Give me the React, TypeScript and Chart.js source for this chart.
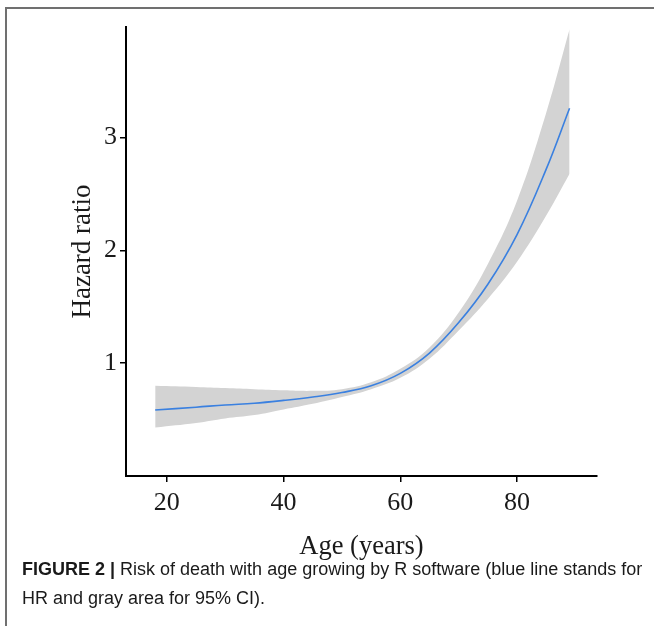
import React, { useEffect, useRef } from "react";
import { Chart, registerables } from "chart.js";

Chart.register(...registerables);

const ages = [18, 25, 30, 35, 40, 45, 50, 55, 60, 65, 70, 75, 80, 85, 89];
const hazardRatio = [0.585, 0.61, 0.63, 0.645, 0.67, 0.7, 0.74, 0.8, 0.91, 1.09, 1.36, 1.7, 2.14, 2.72, 3.26];
const ciUpper = [0.8, 0.79, 0.78, 0.77, 0.76, 0.755, 0.77, 0.83, 0.95, 1.14, 1.45, 1.88, 2.44, 3.22, 3.96];
const ciLower = [0.43, 0.47, 0.51, 0.54, 0.59, 0.64, 0.7, 0.77, 0.87, 1.04, 1.29, 1.57, 1.9, 2.31, 2.68];
const xTicks = [20, 40, 60, 80];
const yTicks = [1, 2, 3];

const serif = "'Liberation Serif', 'Times New Roman', serif";
const CANVAS_H = 563;

export default function App() {
  const ref = useRef<HTMLCanvasElement | null>(null);

  useEffect(() => {
    const canvas = ref.current;
    if (!canvas) return;
    const pts = (vals: number[]) => ages.map((a, i) => ({ x: a, y: vals[i] }));
    const chart = new Chart(canvas, {
      type: "line",
      data: {
        datasets: [
          {
            label: "upper",
            data: pts(ciUpper),
            borderWidth: 0,
            borderColor: "rgba(0,0,0,0)",
            backgroundColor: "#d3d3d3",
            pointRadius: 0,
            fill: "+1",
            tension: 0.4,
            order: 2,
          },
          {
            label: "lower",
            data: pts(ciLower),
            borderWidth: 0,
            borderColor: "rgba(0,0,0,0)",
            backgroundColor: "#d3d3d3",
            pointRadius: 0,
            fill: false,
            tension: 0.4,
            order: 1,
          },
          {
            label: "HR",
            data: pts(hazardRatio),
            borderWidth: 1.6,
            borderColor: "#3a80e0",
            pointRadius: 0,
            fill: false,
            tension: 0.4,
            order: 0,
          },
        ],
      },
      options: {
        animation: false,
        responsive: false,
        devicePixelRatio: 1,
        layout: { padding: { left: 0, top: 27, right: 57, bottom: 0 } },
        plugins: {
          legend: { display: false },
          tooltip: { enabled: false },
          filler: { drawTime: "beforeDatasetsDraw" },
        },
        scales: {
          x: {
            type: "linear",
            min: 13,
            max: 93.7,
            afterBuildTicks: (s: any) => {
              s.ticks = xTicks.map((v) => ({ value: v }));
            },
            afterFit: (s: any) => {
              s.height = CANVAS_H - 476;
            },
            grid: {
              display: true,
              drawOnChartArea: false,
              drawTicks: true,
              tickLength: 6,
              color: "#000",
              lineWidth: 1.5,
            },
            border: { display: true, color: "#000", width: 2 },
            ticks: {
              color: "#1a1a1a",
              font: { family: serif, size: 26 },
              padding: 6,
              maxRotation: 0,
            },
            title: {
              display: true,
              text: "Age (years)",
              color: "#1a1a1a",
              font: { family: serif, size: 26.5 },
              padding: { top: 0, bottom: 0 },
            },
          },
          y: {
            type: "linear",
            min: 0,
            max: 3.98,
            afterBuildTicks: (s: any) => {
              s.ticks = yTicks.map((v) => ({ value: v }));
            },
            afterFit: (s: any) => {
              s.width = 126;
            },
            grid: {
              display: true,
              drawOnChartArea: false,
              drawTicks: true,
              tickLength: 6,
              color: "#000",
              lineWidth: 1.5,
            },
            border: { display: true, color: "#000", width: 2 },
            ticks: {
              color: "#1a1a1a",
              font: { family: serif, size: 26 },
              padding: 3,
            },
            title: {
              display: true,
              text: "Hazard ratio",
              color: "#1a1a1a",
              font: { family: serif, size: 27 },
              padding: { top: 67, bottom: 0 },
            },
          },
        },
      },
    });
    return () => chart.destroy();
  }, []);

  return (
    <div style={{ position: "fixed", left: 0, top: 0, width: 654, height: 626, background: "#fff", overflow: "hidden" }}>
      <div style={{ position: "absolute", left: 5, top: 7, width: 660, height: 2, background: "#707070" }} />
      <div style={{ position: "absolute", left: 5, top: 7, width: 2, height: 640, background: "#707070" }} />
      <canvas ref={ref} width={654} height={CANVAS_H} style={{ position: "absolute", left: 0, top: 0, width: 654, height: CANVAS_H }} />
      <div
        style={{
          position: "absolute",
          left: 22,
          top: 555,
          width: 630,
          fontFamily: "'Liberation Sans', Arial, sans-serif",
          fontSize: 18,
          lineHeight: "29px",
          color: "#1a1a1a",
        }}
      >
        <b>FIGURE 2 |</b> Risk of death with age growing by R software (blue line stands for HR and gray area for 95% CI).
      </div>
    </div>
  );
}
